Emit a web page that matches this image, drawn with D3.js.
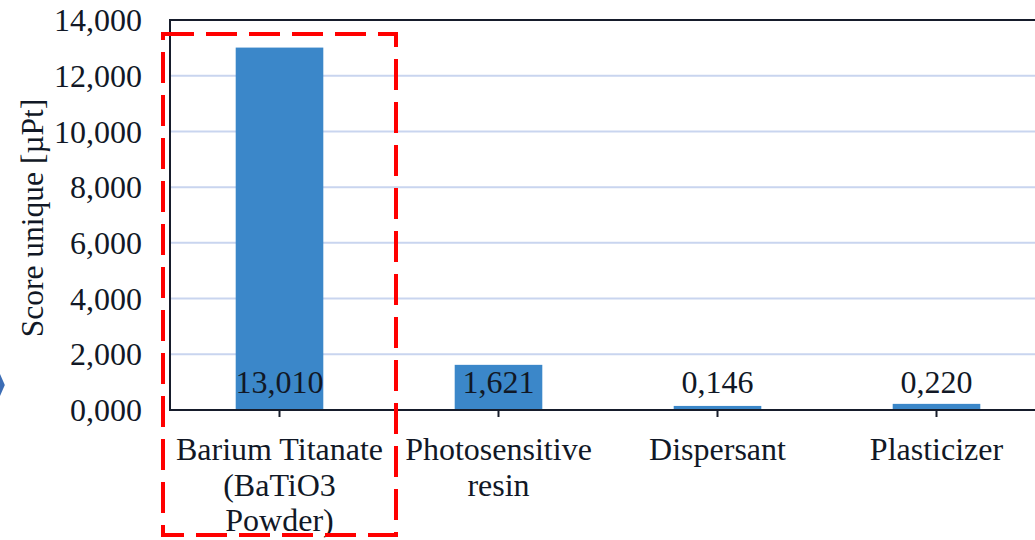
<!DOCTYPE html>
<html>
<head>
<meta charset="utf-8">
<script src="https://cdn.jsdelivr.net/npm/d3@7"></script>
<style>
  html, body { margin: 0; padding: 0; background: #fff; }
  svg { display: block; }
  text { font-family: "Liberation Serif", "Times New Roman", serif; fill: #111826; }
</style>
</head>
<body>
<svg id="chart" width="1035" height="540"></svg>
<script>
// Single score per ingredient, in µPt
const categories = ["Barium Titanate (BaTiO3 Powder)", "Photosensitive resin", "Dispersant", "Plasticizer"];
const categoryLines = [["Barium Titanate", "(BaTiO3", "Powder)"], ["Photosensitive", "resin"], ["Dispersant"], ["Plasticizer"]];
const scores = [13.010, 1.621, 0.146, 0.220];
const yTicks = [0, 2, 4, 6, 8, 10, 12, 14];
const axisTitle = "Score unique [µPt]";

const svg = d3.select("#chart");
const W = 1035, H = 540;
const plot = { left: 170, top: 20, right: 1046, bottom: 410 };
const FS = 32;

const locale = d3.formatLocale({ decimal: ",", thousands: ".", grouping: [3], currency: ["", ""] });
const fmt = locale.format(".3f");

const x = d3.scaleBand().domain(categories).range([plot.left, plot.right]).paddingInner(0.6).paddingOuter(0.3);
const y = d3.scaleLinear().domain([0, 14]).range([plot.bottom, plot.top]);

// horizontal gridlines
svg.append("g").selectAll("line").data(yTicks.filter(d => d > 0 && d < 14)).join("line")
  .attr("x1", plot.left).attr("x2", W)
  .attr("y1", d => y(d)).attr("y2", d => y(d))
  .attr("stroke", "#c9d5ef").attr("stroke-width", 2);

// bars
const data = categories.map((c, i) => ({ c, v: scores[i], lines: categoryLines[i] }));
svg.append("g").selectAll("rect").data(data).join("rect")
  .attr("x", d => x(d.c)).attr("width", x.bandwidth())
  .attr("y", d => y(d.v)).attr("height", d => y(0) - y(d.v))
  .attr("fill", "#3b87c9");

// value labels near the base
svg.append("g").selectAll("text").data(data).join("text")
  .attr("x", d => x(d.c) + x.bandwidth() / 2)
  .attr("y", y(0) - 17)
  .attr("text-anchor", "middle")
  .attr("font-size", FS)
  .text(d => fmt(d.v));

// frame: top border, left and bottom axes
const frame = svg.append("g").attr("stroke", "#161c2b").attr("stroke-width", 2).attr("fill", "none");
frame.append("line").attr("x1", plot.left).attr("x2", W).attr("y1", y(14)).attr("y2", y(14));
frame.append("line").attr("x1", plot.left).attr("x2", plot.left).attr("y1", y(14) - 1).attr("y2", y(0) + 1);
frame.append("line").attr("x1", plot.left).attr("x2", W).attr("y1", y(0)).attr("y2", y(0));
frame.selectAll("line.tick").data(categories).join("line").attr("class", "tick")
  .attr("x1", d => x(d) + x.bandwidth() / 2).attr("x2", d => x(d) + x.bandwidth() / 2)
  .attr("y1", y(0)).attr("y2", y(0) + 7);

// y tick labels
svg.append("g").selectAll("text").data(yTicks).join("text")
  .attr("x", 142).attr("y", d => y(d)).attr("dy", "0.35em")
  .attr("text-anchor", "end").attr("font-size", FS)
  .text(d => fmt(d));

// category labels
const cat = svg.append("g").selectAll("text").data(data).join("text")
  .attr("text-anchor", "middle").attr("font-size", FS)
  .attr("x", d => x(d.c) + x.bandwidth() / 2);
cat.selectAll("tspan").data(d => d.lines.map(l => ({ l, cx: x(d.c) + x.bandwidth() / 2 }))).join("tspan")
  .attr("x", d => d.cx).attr("y", (d, i) => 460 + i * 35.5).text(d => d.l);

// y axis title
svg.append("text")
  .attr("transform", `translate(43, ${(98 + 338) / 2}) rotate(-90)`)
  .attr("text-anchor", "middle").attr("font-size", 31.5)
  .text(axisTitle);

// highlight box around the first category
svg.append("rect")
  .attr("x", 163).attr("y", 34).attr("width", 233).attr("height", 501)
  .attr("fill", "none").attr("stroke", "#ff0000").attr("stroke-width", 4)
  .attr("stroke-dasharray", "31 12");

// partial diamond marker at left edge
svg.append("path")
  .attr("d", d3.symbol(d3.symbolDiamond, 260)())
  .attr("transform", "translate(-3, 385) scale(0.9,1.2)")
  .attr("fill", "#3c6db5");
</script>
</body>
</html>
